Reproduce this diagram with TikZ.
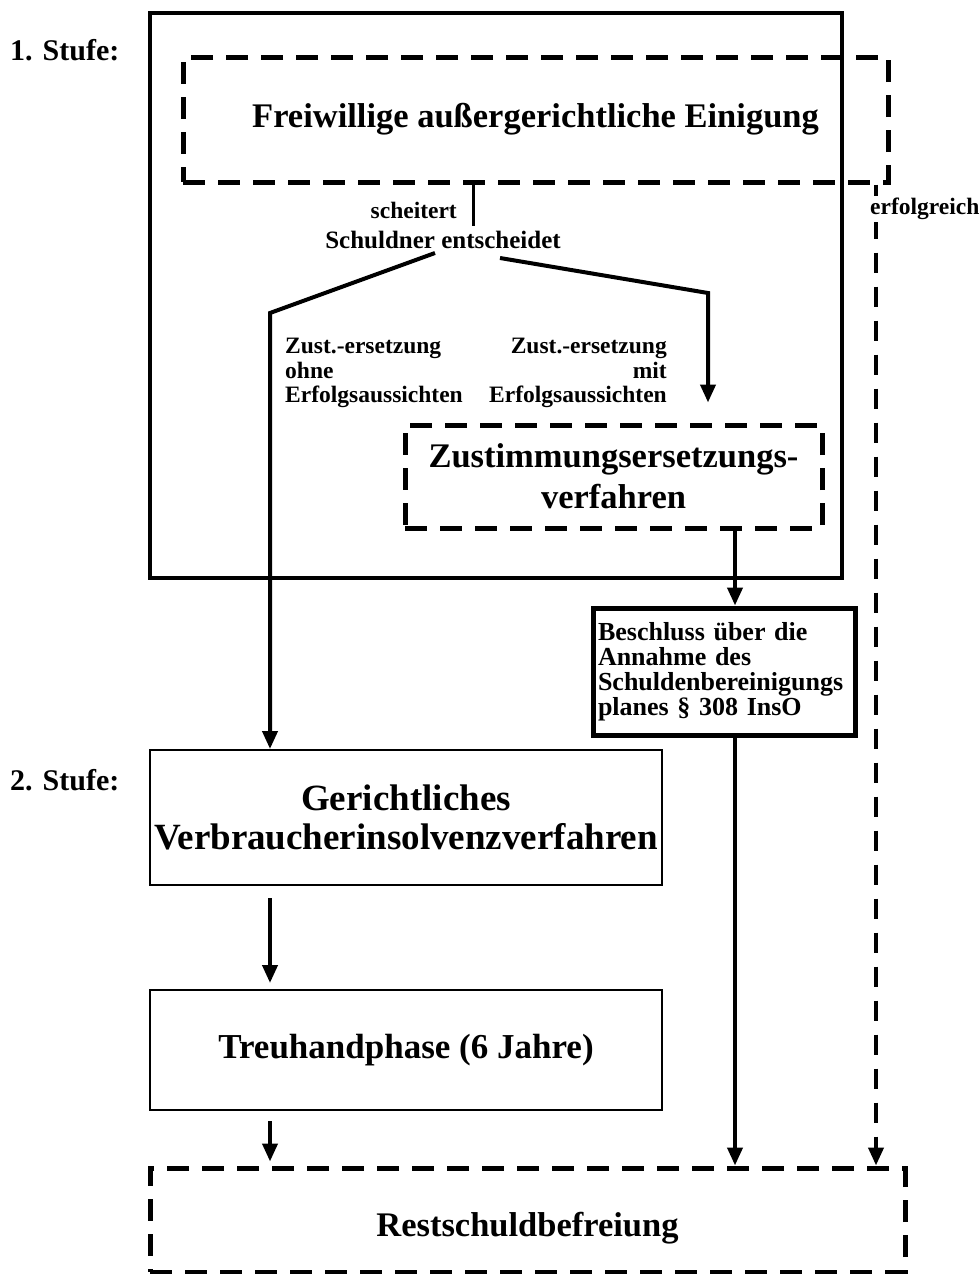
\documentclass[tikz,border=0pt]{standalone}
\usepackage{fontspec}
\setmainfont{Liberation Serif}
\usetikzlibrary{arrows.meta, positioning}

\begin{document}
\begin{tikzpicture}[x=1pt, y=-1pt,
  gross/.style={font=\fontsize{34.5}{41}\selectfont\bfseries, align=center, inner sep=0pt},
  klein/.style={font=\fontsize{23.5}{24.5}\selectfont\bfseries, inner sep=0pt},
  strich/.style={draw, line width=5pt, dash pattern=on 22pt off 13pt},
  kasten/.style={draw, line width=2pt},
  pfeil/.style={line width=4pt, -{Triangle[length=18pt,width=15pt]}}]
\useasboundingbox (0,0) rectangle (978,1274);

% Stufe 1
\draw[line width=4pt] (150,13) rectangle (842,578);
\node[klein, font=\fontsize{30}{32}\selectfont\bfseries, anchor=west] (st1) at (10,50) {1. Stufe:};
\node[gross, strich, minimum width=705pt, minimum height=125pt] (frei) at (535.5,119.5) {Freiwillige außergerichtliche Einigung};
\node[klein, anchor=east] (scheit) at (457,210) {scheitert};
\node[klein, font=\fontsize{25}{27}\selectfont\bfseries] (entsch) at (443,240) {Schuldner entscheidet};
\coordinate (s1) at (473,226);
\draw[line width=3pt] (frei.south -| s1) -- (s1);

% Zweige
\coordinate (l1) at (435,253);
\coordinate (l2) at (270,313);
\coordinate (r1) at (500,258);
\coordinate (r2) at (708,293);
\node[klein, align=left, anchor=north west] (ohne) at (285,338) {Zust.-ersetzung\\ohne\\Erfolgsaussichten};
\node[klein, align=right, anchor=north east] (mit) at (667,338) {Zust.-ersetzung\\mit\\Erfolgsaussichten};
\node[gross, strich, minimum width=417pt, minimum height=103pt] (zust) at (613.5,476.5) {Zustimmungsersetzungs-\\verfahren};
\node[klein, font=\fontsize{26}{25}\selectfont\bfseries, draw, line width=5pt, align=left, text width=252pt, inner xsep=5pt, minimum height=127pt] (besch) at (724,671.5)
  {Beschluss über die\\Annahme des\\Schuldenbereinigungs\\planes § 308 InsO};

% Stufe 2
\node[klein, font=\fontsize{30}{32}\selectfont\bfseries, anchor=west] (st2) at (10,780) {2. Stufe:};
\node[gross, kasten, minimum width=512pt, minimum height=135pt, font=\fontsize{37}{39}\selectfont\bfseries] (gericht) at (406,817.5) {Gerichtliches\\Verbraucherinsolvenzverfahren};
\node[gross, kasten, minimum width=512pt, minimum height=120pt, font=\fontsize{35}{40}\selectfont\bfseries] (treu) at (406,1050) {Treuhandphase (6 Jahre)};
\node[gross, strich, minimum width=755pt, minimum height=104pt] (rest) at (527.5,1220) {};
\node[gross] (resttext) at (527.5,1228) {Restschuldbefreiung};

% Verbindungen
\coordinate (mx) at (735,0);
\coordinate (ex) at (876,0);
\draw[pfeil] (l1) -- (l2) -- (l2 |- gericht.north);
\draw[pfeil, shorten >=20pt] (r1) -- (r2) -- (r2 |- zust.north);
\draw[pfeil] (zust.south -| mx) -- (besch.north -| mx);
\draw[pfeil] (besch.south -| mx) -- (rest.north -| mx);
\draw[pfeil, shorten <=12pt, shorten >=6pt] (gericht.south -| l2) -- (treu.north -| l2);
\draw[pfeil, shorten <=10pt, shorten >=4pt] (treu.south -| l2) -- (rest.north -| l2);
\draw[pfeil, dash pattern=on 20pt off 14pt] (frei.south -| ex) -- (rest.north -| ex);
\node[klein, fill=white, inner sep=2pt, anchor=north west] (erfolg) at (868,196) {erfolgreich};
\end{tikzpicture}
\end{document}
